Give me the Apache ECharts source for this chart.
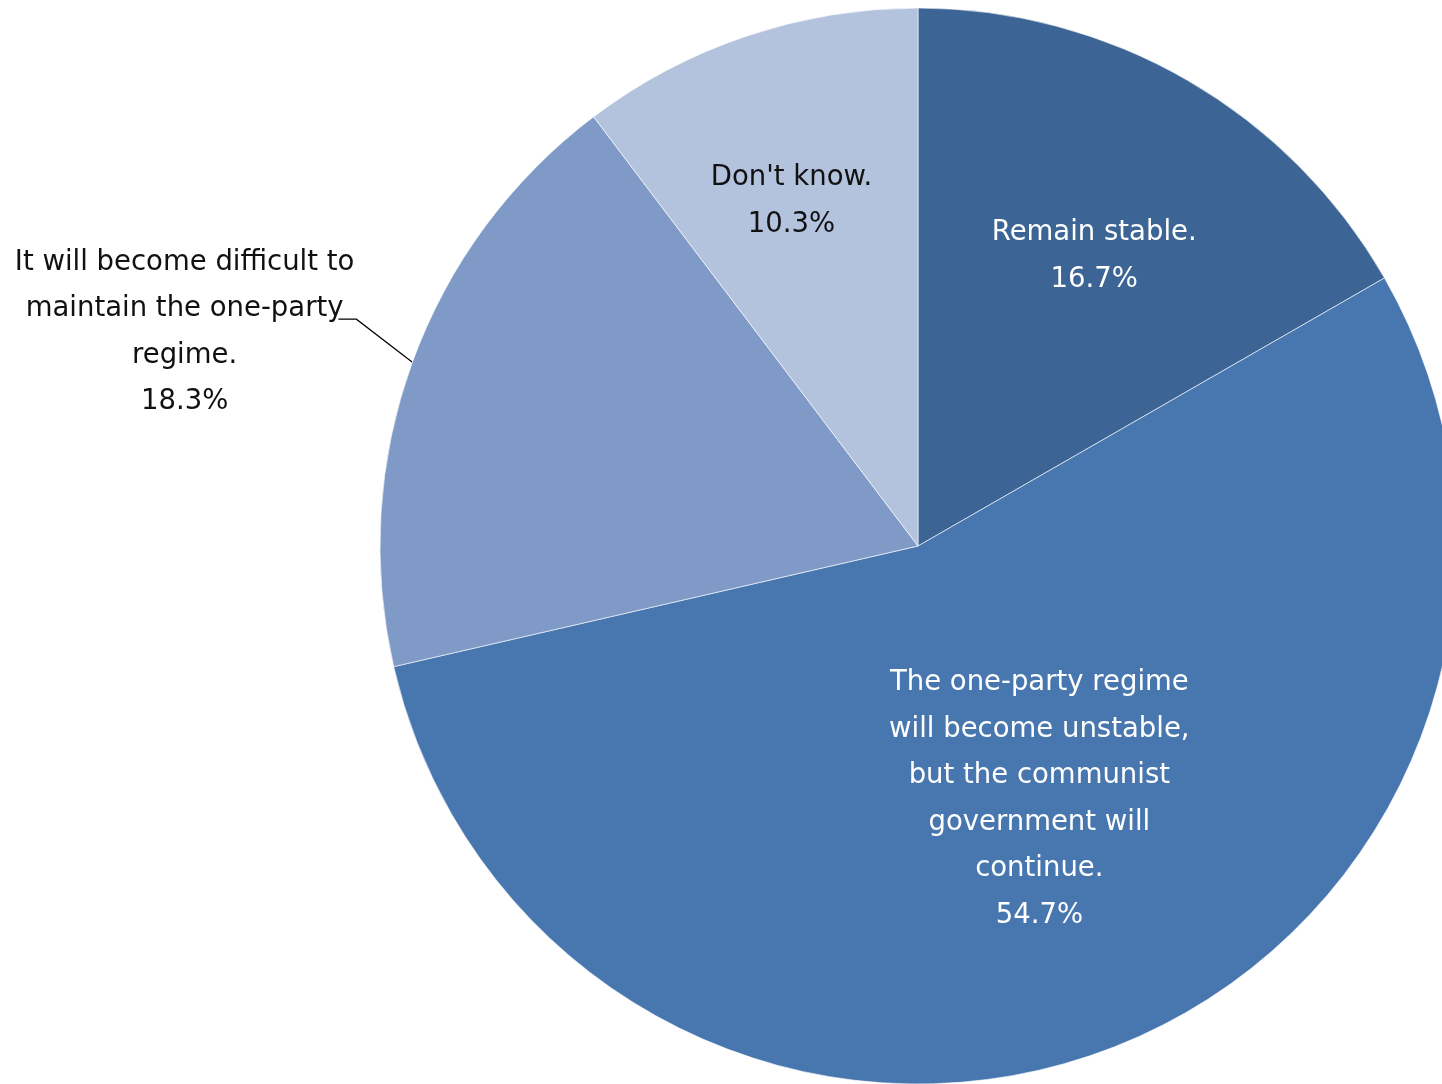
<!DOCTYPE html>
<html>
<head>
<meta charset="utf-8">
<script src="https://cdn.jsdelivr.net/npm/echarts@6/dist/echarts.min.js"></script>
<style>
html,body{margin:0;padding:0;background:#fff;}
#chart{width:1442px;height:1084px;}
</style>
</head>
<body>
<div id="chart"></div>
<script>
// Data
const categories = [
  "Remain stable.",
  "The one-party regime\nwill become unstable,\nbut the communist\ngovernment will\ncontinue.",
  "It will become difficult to\nmaintain the one-party\nregime.",
  "Don't know."
];
const values = [16.7, 54.7, 18.3, 10.3];

// Styles
const colors = ["#3C6595", "#4877AF", "#7F9AC6", "#B4C3DD"];
const labelColors = ["#ffffff", "#ffffff", "#111111", "#111111"];
const labelOffsets = [[40, -54], [22, 0], null, [-40, -87]];

const chart = echarts.init(document.getElementById('chart'));

const data = categories.map((name, i) => ({
  name: name,
  value: values[i],
  itemStyle: { color: colors[i] },
  label: {
    position: i === 2 ? 'outside' : 'inside',
    color: labelColors[i]
  },
  labelLine: { show: i === 2 }
}));

chart.setOption({
  animation: false,
  series: [{
    type: 'pie',
    center: [918, 546],
    radius: 538,
    startAngle: 90,
    clockwise: true,
    avoidLabelOverlap: false,
    data: data,
    itemStyle: { borderColor: '#ffffff', borderWidth: 0.6 },
    label: {
      show: true,
      formatter: p => p.name + '\n' + p.value.toFixed(1) + '%',
      fontFamily: 'DejaVu Sans',
      fontSize: 27.5,
      lineHeight: 46.5,
      align: 'center'
    },
    labelLine: {
      show: true,
      length: 60,
      length2: 18,
      lineStyle: { color: '#000', width: 1.2 }
    },
    labelLayout: function (params) {
      const i = params.dataIndex;
      if (i === 2) {
        const p0 = params.labelLinePoints[0];
        const p1 = [p0[0] - 56, p0[1] - 43];
        const p2 = [p1[0] - 18, p1[1]];
        return {
          x: p2[0] - params.labelRect.width / 2 + 16,
          y: p2[1] + 13,
          align: 'center',
          verticalAlign: 'middle',
          labelLinePoints: [p0, p1, p2]
        };
      }
      const o = labelOffsets[i];
      return { dx: o[0], dy: o[1] };
    }
  }]
});
</script>
</body>
</html>
